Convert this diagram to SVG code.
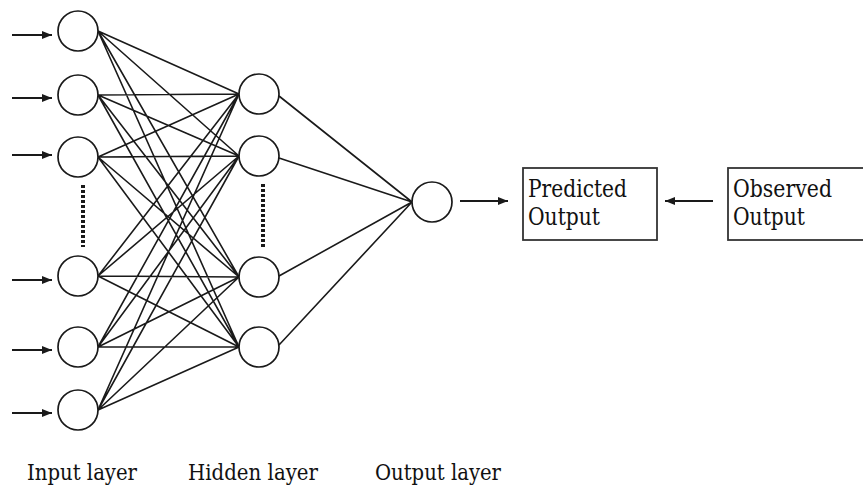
<svg xmlns="http://www.w3.org/2000/svg" width="863" height="485" viewBox="0 0 863 485">
<defs>
<style>
.n{fill:#fff;stroke:#1a1a1a;stroke-width:1.7}
.e{stroke:#1a1a1a;stroke-width:1.6;fill:none}
.a{stroke:#1a1a1a;stroke-width:1.9;fill:none;marker-end:url(#ah)}
.dot{stroke:#1a1a1a;stroke-width:4;stroke-dasharray:3 2;fill:none}
.box{fill:#fff;stroke:#333;stroke-width:1.8}
.t{font-family:"DejaVu Serif","Noto Serif",serif;font-size:23px;fill:#111}
.bt{font-family:"DejaVu Serif","Noto Serif",serif;font-size:23.5px;fill:#111}
</style>
<marker id="ah" viewBox="0 0 10 8" refX="10" refY="4" markerWidth="10" markerHeight="8" markerUnits="userSpaceOnUse" orient="auto">
<path d="M0,0 L10,4 L0,8 Z" fill="#1a1a1a"/>
</marker>
</defs>
<rect width="863" height="485" fill="#fff"/>
<g id="connectors">
<path class="e" d="M98,31 L239,94 M98,31 L239,156 M98,31 L239,277 M98,31 L239,347
M98,95 L239,94 M98,95 L239,156 M98,95 L239,277 M98,95 L239,347
M98,157 L239,94 M98,157 L239,156 M98,157 L239,277 M98,157 L239,347
M98,276 L239,94 M98,276 L239,156 M98,276 L239,277 M98,276 L239,347
M98,347 L239,94 M98,347 L239,156 M98,347 L239,277 M98,347 L239,347
M98,410 L239,94 M98,410 L239,156 M98,410 L239,277 M98,410 L239,347"/>
<path class="e" d="M279,96 L412,202 M279,158 L412,202 M279,276 L412,202 M279,345 L412,202"/>
<line class="a" x1="12" y1="35" x2="52" y2="35"/>
<line class="a" x1="12" y1="98" x2="52" y2="98"/>
<line class="a" x1="12" y1="155" x2="52" y2="155"/>
<line class="a" x1="12" y1="280" x2="52" y2="280"/>
<line class="a" x1="12" y1="350" x2="52" y2="350"/>
<line class="a" x1="12" y1="413" x2="52" y2="413"/>
<line class="a" x1="460" y1="201" x2="508" y2="201"/>
<line class="a" x1="713" y1="201" x2="665" y2="201"/>
</g>
<g id="input-layer">
<circle class="n" cx="78" cy="31" r="20"/>
<circle class="n" cx="78" cy="95" r="20"/>
<circle class="n" cx="78" cy="157" r="20"/>
<line class="dot" x1="83" y1="185" x2="83" y2="247"/>
<circle class="n" cx="78" cy="276" r="20"/>
<circle class="n" cx="78" cy="347" r="20"/>
<circle class="n" cx="78" cy="410" r="20"/>
</g>
<g id="hidden-layer">
<circle class="n" cx="259" cy="94" r="20"/>
<circle class="n" cx="259" cy="156" r="20"/>
<line class="dot" x1="263" y1="184" x2="263" y2="248"/>
<circle class="n" cx="259" cy="277" r="20"/>
<circle class="n" cx="259" cy="347" r="20"/>
</g>
<g id="output-node">
<circle class="n" cx="432" cy="202" r="20"/>
</g>
<g id="predicted-output">
<rect class="box" x="523" y="168" width="134" height="72"/>
<text class="bt" x="528" y="197" textLength="99" lengthAdjust="spacingAndGlyphs">Predicted</text>
<text class="bt" x="528" y="225" textLength="72" lengthAdjust="spacingAndGlyphs">Output</text>
</g>
<g id="observed-output">
<rect class="box" x="728" y="168" width="150" height="72"/>
<text class="bt" x="733" y="197" textLength="99" lengthAdjust="spacingAndGlyphs">Observed</text>
<text class="bt" x="733" y="225" textLength="72" lengthAdjust="spacingAndGlyphs">Output</text>
</g>
<g id="labels">
<text class="t" x="27" y="480" textLength="110" lengthAdjust="spacingAndGlyphs">Input layer</text>
<text class="t" x="188" y="480" textLength="130" lengthAdjust="spacingAndGlyphs">Hidden layer</text>
<text class="t" x="375" y="480" textLength="126" lengthAdjust="spacingAndGlyphs">Output layer</text>
</g>
</svg>
